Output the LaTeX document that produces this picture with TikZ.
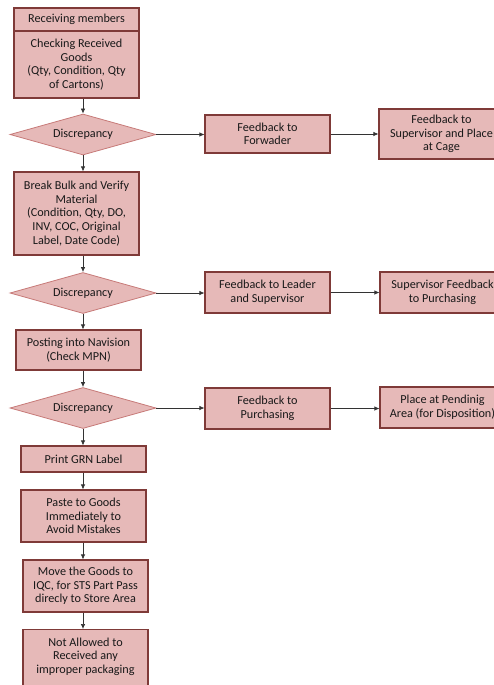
\documentclass[tikz,border=0pt]{standalone}
\usepackage{fontspec}
\setmainfont{Carlito}
\usetikzlibrary{arrows.meta,shapes.geometric}
\definecolor{boxfill}{HTML}{E6B9B8}
\definecolor{boxline}{HTML}{7F3A38}
\definecolor{dialine}{HTML}{C77A78}
\tikzset{
  stepbox/.style={draw=boxline, fill=boxfill, line width=1.1pt, minimum width=125pt,
    inner sep=0pt, align=center, text=black!90, font=\fontsize{12.2}{13.6}\selectfont},
  decision/.style={diamond, draw=dialine, fill=boxfill, line width=0.8pt, inner sep=0pt,
    aspect=3.56, minimum width=146pt, minimum height=41pt, text=black!90,
    font=\fontsize{12.2}{13.6}\selectfont},
  flow/.style={draw=black!80, line width=0.7pt, -{Latex[length=5pt,width=4.5pt]}}
}
\begin{document}
\begin{tikzpicture}[x=1pt,y=-1pt]
\useasboundingbox (0,0) rectangle (494,685);
\clip (0,0) rectangle (494,685);
% left column
\node[stepbox, minimum height=23pt] (head) at (76.5,19.5) {Receiving members};
\node[stepbox, minimum height=67pt] (check) at (76.5,64.5) {Checking Received\\Goods\\(Qty, Condition, Qty\\of Cartons)};
\node[decision] (dis1) at (83,134.5) {Discrepancy};
\node[stepbox, minimum height=83pt] (bulk) at (76.5,213.5) {Break Bulk and Verify\\Material\\(Condition, Qty, DO,\\INV, COC, Original\\Label, Date Code)};
\node[decision] (dis2) at (83,293) {Discrepancy};
\node[stepbox, minimum height=40pt] (post) at (78.5,350) {Posting into Navision\\(Check MPN)};
\node[decision] (dis3) at (83,408) {Discrepancy};
\node[stepbox, minimum height=26pt] (grn) at (83.5,459) {Print GRN Label};
\node[stepbox, minimum height=52pt] (paste) at (83.5,516) {Paste to Goods\\Immediately to\\Avoid Mistakes};
\node[stepbox, minimum height=52pt] (move) at (85.5,586) {Move the Goods to\\IQC, for STS Part Pass\\direcly to Store Area};
\node[stepbox, minimum height=66pt, anchor=north] (refuse) at (85.5,629) {Not Allowed to\\Received any\\improper packaging\\~};
% middle column
\node[stepbox, minimum height=38pt] (fwd) at (267.5,134) {Feedback to\\Forwader};
\node[stepbox, minimum height=41pt] (leader) at (267.5,292.5) {Feedback to Leader\\and Supervisor};
\node[stepbox, minimum height=41pt] (purch) at (267.5,408.5) {Feedback to\\Purchasing};
% right column
\node[stepbox, minimum height=50pt] (cage) at (441.5,134) {Feedback to\\Supervisor and Place\\at Cage};
\node[stepbox, minimum height=41pt] (suppur) at (442.5,292.5) {Supervisor Feedback\\to Purchasing};
\node[stepbox, minimum height=41pt] (pending) at (442.5,407.5) {Place at Pendinig\\Area (for Disposition)};
% down the left column
\draw[flow] (check.south -| dis1.north) -- (dis1.north);
\draw[flow] (dis1.south) -- (dis1.south |- bulk.north);
\draw[flow] (bulk.south -| dis2.north) -- (dis2.north);
\draw[flow] (dis2.south) -- (dis2.south |- post.north);
\draw[flow] (post.south -| dis3.north) -- (dis3.north);
\draw[flow] (dis3.south) -- (dis3.south |- grn.north);
\draw[flow] (grn.south -| dis3.south) -- (dis3.south |- paste.north);
\draw[flow] (paste.south -| dis3.south) -- (dis3.south |- move.north);
\draw[flow] (move.south -| dis3.south) -- (dis3.south |- refuse.north);
% across
\draw[flow] (dis1.east) -- (dis1.east -| fwd.west);
\draw[flow] (fwd.east) -- (fwd.east -| cage.west);
\draw[flow] (dis2.east) -- (dis2.east -| leader.west);
\draw[flow] (leader.east) -- (leader.east -| suppur.west);
\draw[flow] (dis3.east) -- (dis3.east -| purch.west);
\draw[flow] (purch.east) -- (purch.east -| pending.west);
\end{tikzpicture}
\end{document}
